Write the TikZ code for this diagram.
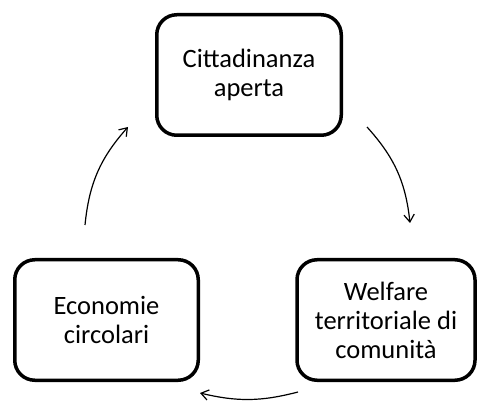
\documentclass[tikz,border=0pt]{standalone}
\usepackage{fontspec}
\setmainfont{Carlito}
\usetikzlibrary{arrows.meta}
\tikzset{
  stage/.style={draw, line width=3.5pt, rounded corners=20pt, align=center,
    minimum width=182pt, minimum height=120.5pt,
    font=\fontsize{26.5}{29}\selectfont},
  flow/.style={line width=1.2pt, -{Straight Barb[angle=70:9pt, line width=1.2pt]}}
}
\begin{document}
\begin{tikzpicture}[x=1pt,y=1pt]
\useasboundingbox (0,0) rectangle (478,401);
\node[stage, minimum width=184.5pt] (cit) at (249,326) {Cittadinanza\\aperta};
\node[stage, minimum width=183.5pt] (eco) at (106.5,81) {Economie\\circolari};
\node[stage, minimum width=178pt] (wel) at (386,81) {Welfare\\territoriale di\\comunità};

\coordinate (r1) at (367,274);
\coordinate (r2) at (410,178);
\coordinate (b1) at (298,9);
\coordinate (b2) at (200,8);
\coordinate (l1) at (85,176);
\coordinate (l2) at (128,274);

\draw[flow] (r1) to[bend left=18] (r2);
\draw[flow] (b1) to[bend left=14] (b2);
\draw[flow] (l1) to[bend left=18] (l2);
\end{tikzpicture}
\end{document}
